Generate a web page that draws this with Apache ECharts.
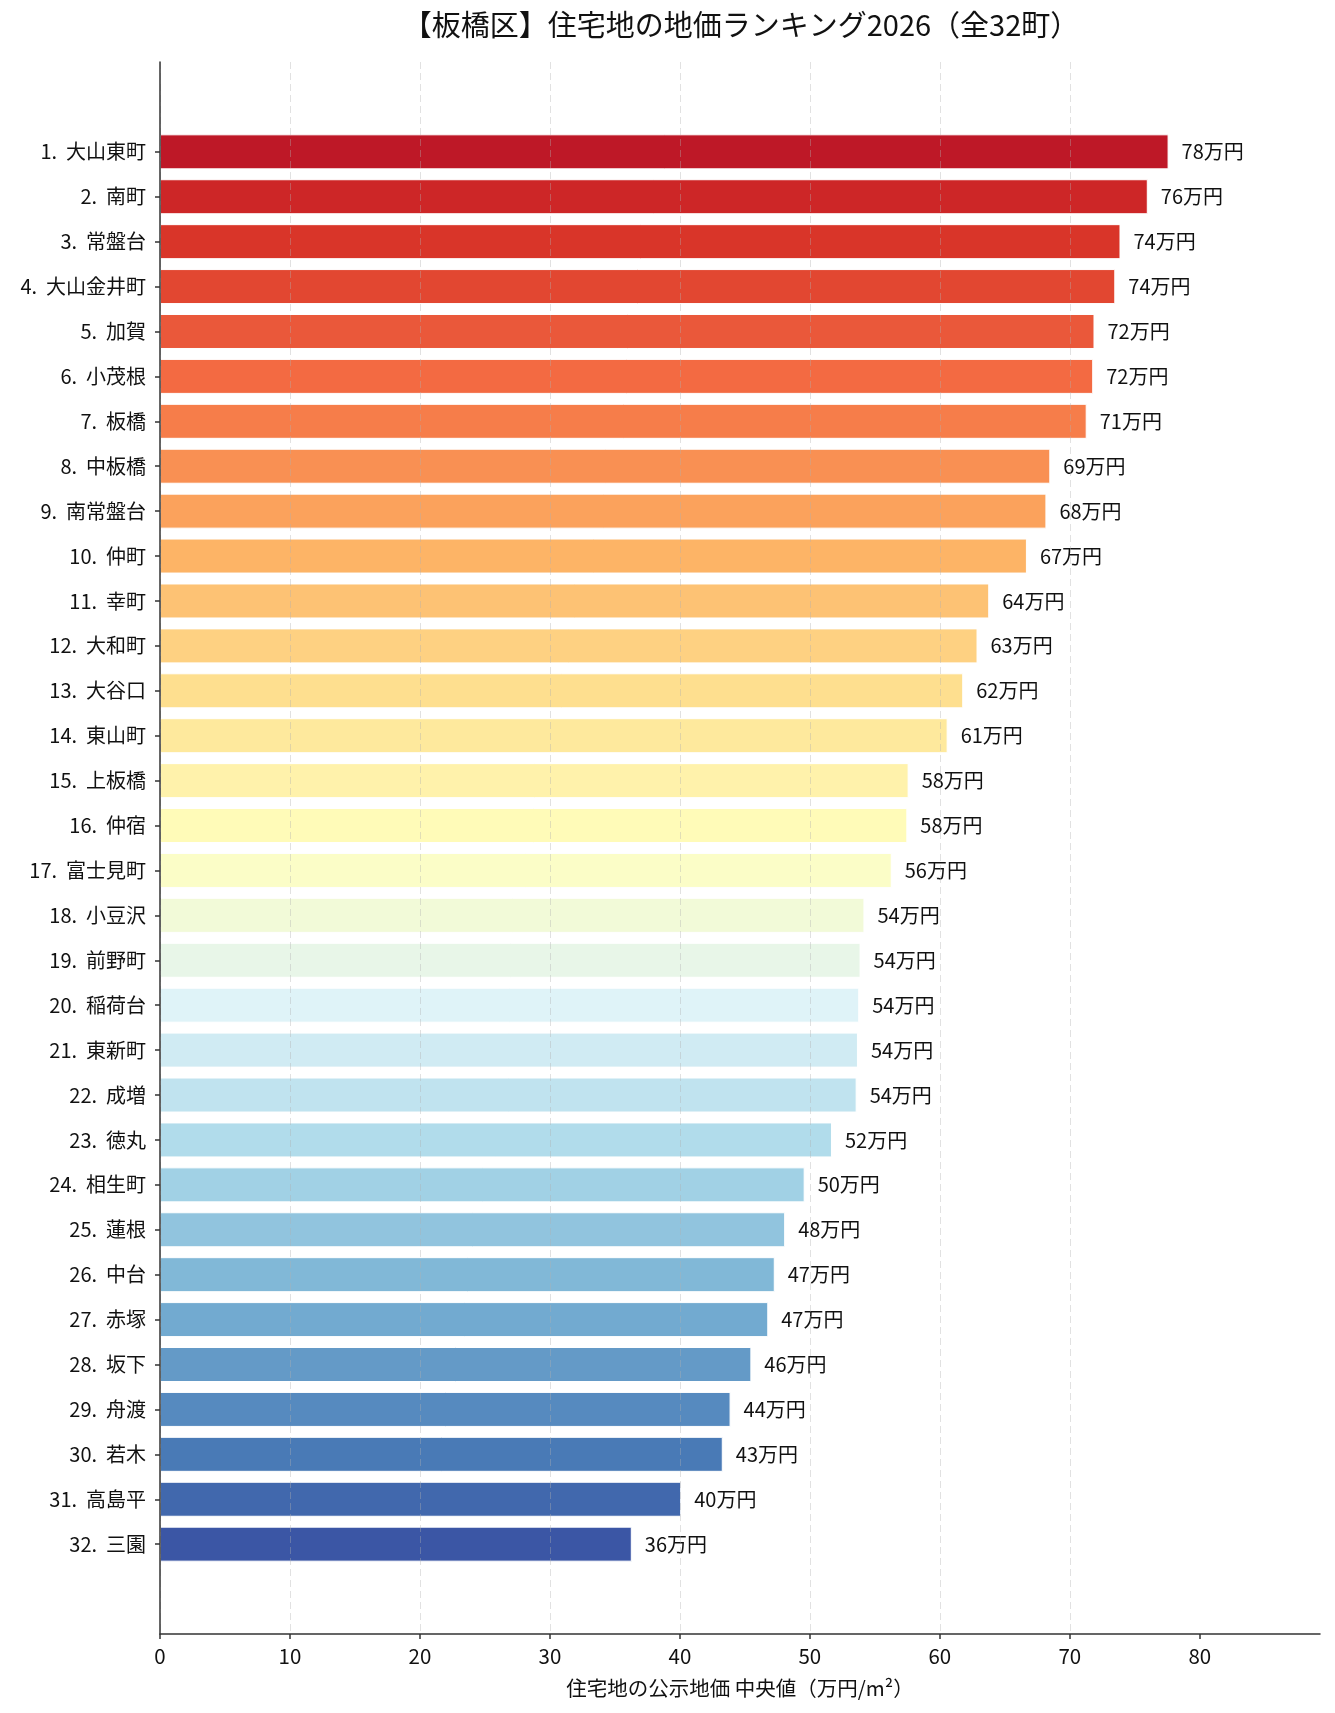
<!DOCTYPE html>
<html>
<head>
<meta charset="utf-8">
<script src="https://cdn.jsdelivr.net/npm/echarts@6/dist/echarts.min.js"></script>
<style>
html,body{margin:0;padding:0;background:#fff;}
#chart{width:1335px;height:1713px;}
</style>
</head>
<body>
<div id="chart"></div>
<script>
// ---- data ----
const towns = ['大山東町','南町','常盤台','大山金井町','加賀','小茂根','板橋','中板橋','南常盤台','仲町',
  '幸町','大和町','大谷口','東山町','上板橋','仲宿','富士見町','小豆沢','前野町','稲荷台',
  '東新町','成増','徳丸','相生町','蓮根','中台','赤塚','坂下','舟渡','若木','高島平','三園'];
const prices = [77.6,76.0,73.9,73.5,71.9,71.8,71.3,68.5,68.2,66.7,
  63.8,62.9,61.8,60.6,57.6,57.5,56.3,54.2,53.9,53.8,
  53.7,53.6,51.7,49.6,48.1,47.3,46.8,45.5,43.9,43.3,40.1,36.3];
const xTicks = [0,10,20,30,40,50,60,70,80];
const titleText = '【板橋区】住宅地の地価ランキング2026（全32町）';
const xName = '住宅地の公示地価 中央値（万円/m²）';

// ---- colormap (RdYlBu) ----
const rdylbu = ['#a50026','#d73027','#f46d43','#fdae61','#fee090','#ffffbf','#e0f3f8','#abd9e9','#74add1','#4575b4','#313695'];
function hex2rgb(h){return [parseInt(h.substr(1,2),16),parseInt(h.substr(3,2),16),parseInt(h.substr(5,2),16)];}
function cmap(t){
  const p = t*10; let i = Math.floor(p); if(i>=10) i=9; const f = p-i;
  const a = hex2rgb(rdylbu[i]), b = hex2rgb(rdylbu[i+1]);
  const c = a.map((v,k)=>Math.round(v+(b[k]-v)*f));
  return 'rgb('+c.join(',')+')';
}
const n = towns.length;
const palette = towns.map((_,i)=>cmap(0.05 + i*0.9/(n-1)));

// ---- categories with padding slots ----
const pad = ['_a','_b'];
const padEnd = ['_c','_d'];
const cats = pad.concat(towns.map((t,i)=>(i+1)+'.  '+t)).concat(padEnd);
const seriesData = ['-','-'].concat(prices.map((v,i)=>({value:v,itemStyle:{color:palette[i]}}))).concat(['-','-']);

const FONT = '"Noto Sans CJK JP", "Noto Sans", sans-serif';
const chart = echarts.init(document.getElementById('chart'), null, {renderer:'canvas'});
chart.setOption({
  animation:false,
  backgroundColor:'#fff',
  textStyle:{fontFamily:FONT},
  title:{
    text:titleText, left:741, top:10, textAlign:'center', padding:0,
    textStyle:{fontSize:29, fontWeight:'normal', color:'#111', fontFamily:FONT}
  },
  grid:{left:160, right:15, top:62, bottom:79, containLabel:false, outerBoundsMode:'none'},
  xAxis:{
    type:'value', min:0, max:89.25, interval:10, z:3,
    name:xName, nameLocation:'middle', nameGap:44,
    nameTextStyle:{fontSize:20.5, color:'#111', fontFamily:FONT},
    axisLine:{show:true, onZero:false, lineStyle:{color:'#333', width:1.5}},
    axisTick:{show:true, length:5, customValues:xTicks, lineStyle:{color:'#333', width:1.5}},
    axisLabel:{customValues:xTicks, margin:12, fontSize:20.5, color:'#111', fontFamily:FONT},
    splitLine:{show:true, showMaxLine:false, lineStyle:{type:[7,4], color:'rgba(175,175,175,0.38)', width:1}}
  },
  yAxis:{
    type:'category', inverse:true, boundaryGap:false, data:cats, z:3,
    axisLine:{show:true, lineStyle:{color:'#333', width:1.5}},
    axisTick:{show:true, length:5, lineStyle:{color:'#333', width:1.5},
      interval:function(idx, val){ return String(val).charAt(0) !== '_'; }},
    axisLabel:{interval:0, margin:14, fontSize:20, color:'#111', fontFamily:FONT,
      formatter:function(v){ return v.charAt(0)==='_' ? '' : v; }},
    splitLine:{show:false}
  },
  series:[{
    type:'bar', data:seriesData, barWidth:35,
    itemStyle:{borderColor:'#fff', borderWidth:1},
    label:{show:true, position:'right', distance:13, fontSize:20, color:'#111', fontFamily:FONT,
      formatter:function(p){ return Math.round(p.value)+'万円'; }}
  }]
});
</script>
</body>
</html>
